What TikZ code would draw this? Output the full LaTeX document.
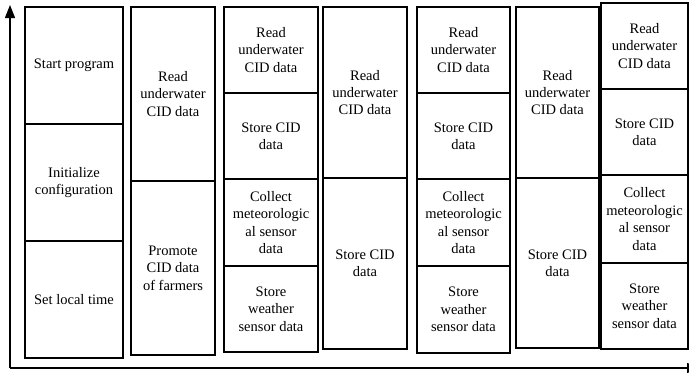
\documentclass[tikz,border=0pt]{standalone}
\usepackage{fontspec}
\setmainfont{Liberation Serif}
\usetikzlibrary{arrows.meta,positioning}

\begin{document}
\begin{tikzpicture}[x=1pt,y=1pt,node distance=0pt,line width=1.2pt,>={Triangle[length=13pt,width=10pt]},
    box/.style={draw,rectangle,inner sep=0pt,outer sep=0pt,align=center,font=\rmfamily\fontsize{14.5}{17.4}\selectfont}]
  \useasboundingbox (0,0) rectangle (689,-378);
  % axes
  \coordinate (o) at (10,-368);
  \coordinate (ytop) at (10,-5);
  \coordinate (xend) at (700,-368);
  \draw[->] (o) -- (ytop);
  \draw[->] (o) -- (xend);
  % column 1
  \node[box,minimum width=98,minimum height=117,anchor=north west] (a1) at (25,-7) {Start program};
  \node[box,minimum width=98,minimum height=117] (a2) [below=of a1] {Initialize\\configuration};
  \node[box,minimum width=98,minimum height=117] (a3) [below=of a2] {Set local time};
  % column 2
  \node[box,minimum width=84,minimum height=174,anchor=north west] (b1) at (131,-7) {Read\\underwater\\CID data};
  \node[box,minimum width=84,minimum height=174] (b2) [below=of b1] {Promote\\CID data\\of farmers};
  % column 3
  \node[box,minimum width=94,minimum height=86,anchor=north west] (c1) at (224,-7) {Read\\underwater\\CID data};
  \node[box,minimum width=94,minimum height=86] (c2) [below=of c1] {Store CID\\data};
  \node[box,minimum width=94,minimum height=87] (c3) [below=of c2] {Collect\\meteorologic\\al sensor\\data};
  \node[box,minimum width=94,minimum height=86] (c4) [below=of c3] {Store\\weather\\sensor data};
  % column 4
  \node[box,minimum width=84,minimum height=171,anchor=north west] (d1) at (323,-7) {Read\\underwater\\CID data};
  \node[box,minimum width=84,minimum height=171] (d2) [below=of d1] {Store CID\\data};
  % column 5
  \node[box,minimum width=93,minimum height=86,anchor=north west] (e1) at (417,-7) {Read\\underwater\\CID data};
  \node[box,minimum width=93,minimum height=86] (e2) [below=of e1] {Store CID\\data};
  \node[box,minimum width=93,minimum height=87] (e3) [below=of e2] {Collect\\meteorologic\\al sensor\\data};
  \node[box,minimum width=93,minimum height=87] (e4) [below=of e3] {Store\\weather\\sensor data};
  % column 6
  \node[box,minimum width=83,minimum height=171,anchor=north west] (f1) at (516,-7) {Read\\underwater\\CID data};
  \node[box,minimum width=83,minimum height=170] (f2) [below=of f1] {Store CID\\data};
  % column 7
  \node[box,minimum width=87,minimum height=86,anchor=north west] (g1) at (601,-3) {Read\\underwater\\CID data};
  \node[box,minimum width=87,minimum height=86] (g2) [below=of g1] {Store CID\\data};
  \node[box,minimum width=87,minimum height=88] (g3) [below=of g2] {Collect\\meteorologic\\al sensor\\data};
  \node[box,minimum width=87,minimum height=86] (g4) [below=of g3] {Store\\weather\\sensor data};
\end{tikzpicture}
\end{document}
